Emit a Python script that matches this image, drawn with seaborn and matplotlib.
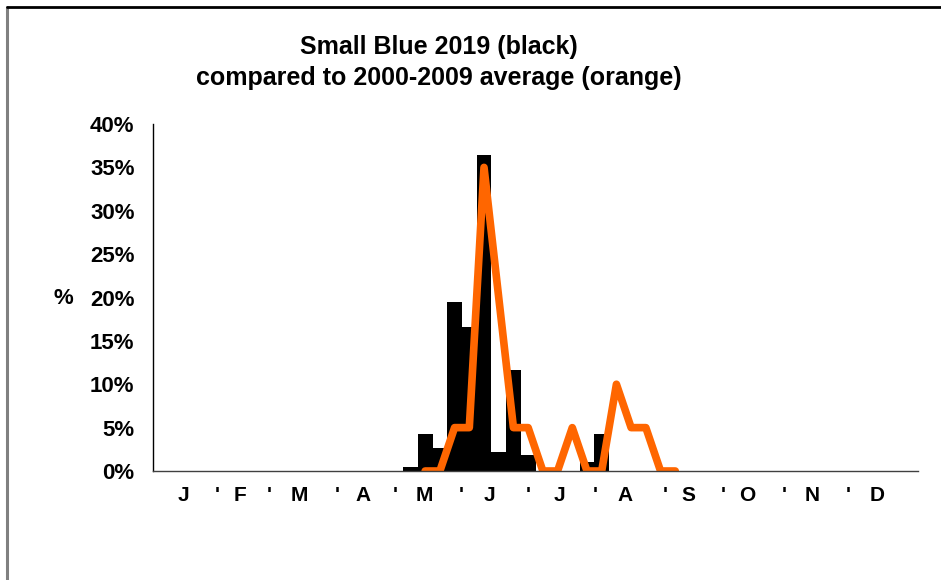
import numpy as np
import pandas as pd
import seaborn as sns
import matplotlib.pyplot as plt
from matplotlib.lines import Line2D

# weekly counts as % of the season total, weeks 1..52
weeks = list(range(1, 53))
y2019 = [0] * 52
y2019[17:31] = [0.5, 4.3, 2.7, 19.5, 16.6, 36.4, 2.2, 11.6, 1.9, 0, 0, 0, 1.0, 4.3]

# 2000-2009 average, only the weeks that have data
avg_weeks = list(range(19, 37))
avg_vals = [0, 0, 5, 5, 35, 20, 5, 5, 0, 0, 5, 0, 0, 10, 5, 5, 0, 0]

# month letters with separators along the bottom
month_labels = ['J', "'", 'F', "'", 'M', "'", 'A', "'", 'M', "'", 'J', "'",
                'J', "'", 'A', "'", 'S', "'", 'O', "'", 'N', "'", 'D']
month_pos = [2.54, 4.85, 6.41, 8.39, 10.43, 13.01, 14.78, 16.95, 18.92, 21.44,
             23.34, 26.0, 28.1, 30.55, 32.59, 35.3, 36.87, 39.25, 40.88, 43.4,
             45.3, 47.75, 49.72]

yticks = [0, 5, 10, 15, 20, 25, 30, 35, 40]

sns.set_style('white')
plt.rcParams['font.family'] = ['Liberation Sans', 'DejaVu Sans']
plt.rcParams['font.weight'] = 'bold'
plt.rcParams['text.color'] = 'black'
plt.rcParams['xtick.labelcolor'] = 'black'
plt.rcParams['ytick.labelcolor'] = 'black'

df = pd.DataFrame({'week': weeks, 'pct': y2019})
df_avg = pd.DataFrame({'week': avg_weeks, 'pct': avg_vals})

W, H = 941, 580
fig = plt.figure(figsize=(W / 100, H / 100), dpi=100)
ax = fig.add_axes([153 / W, (H - 471) / H, (918 - 153) / W, (471 - 124) / H])

sns.barplot(data=df, x='week', y='pct', native_scale=True, width=1,
            color='black', saturation=1, linewidth=0, errorbar=None, ax=ax)
sns.lineplot(data=df_avg, x='week', y='pct', color='#FF6600', linewidth=5.5,
             solid_joinstyle='round', solid_capstyle='round', ax=ax)

ax.set_xlim(0.5, 52.5)
ax.set_ylim(0, 40)
ax.set_yticks(yticks)
ax.set_yticklabels([f'{v}%' for v in yticks], fontsize=16, fontweight='bold')
ax.set_xticks(month_pos)
ax.set_xticklabels(month_labels, fontsize=15, fontweight='bold')
ax.tick_params(axis='x', length=0, pad=11)
ax.tick_params(axis='y', length=4.3, width=1, color='#808080', pad=9)
ax.set_xlabel('')
ax.set_ylabel('')

for s in ['top', 'right']:
    ax.spines[s].set_visible(False)
ax.spines['left'].set_color('black')
ax.spines['left'].set_linewidth(1)
ax.spines['bottom'].set_color('#404040')
ax.spines['bottom'].set_linewidth(1)

fig.text(439 / W, 1 - 47 / H, 'Small Blue 2019 (black)', ha='center', va='center',
         fontsize=18, fontweight='bold')
fig.text(439 / W, 1 - 78 / H, 'compared to 2000-2009 average (orange)', ha='center',
         va='center', fontsize=18, fontweight='bold')
fig.text(63 / W, 1 - 298 / H, '%', ha='center', va='center', fontsize=16,
         fontweight='bold')

# chart frame
fig.add_artist(Line2D([7 / W, 7 / W], [0, 1 - 7 / H], transform=fig.transFigure,
                      color='#808080', linewidth=2.2))
fig.add_artist(Line2D([7 / W, 1], [1 - 7 / H, 1 - 7 / H], transform=fig.transFigure,
                      color='black', linewidth=2))

fig.savefig('out.png', dpi=100)
